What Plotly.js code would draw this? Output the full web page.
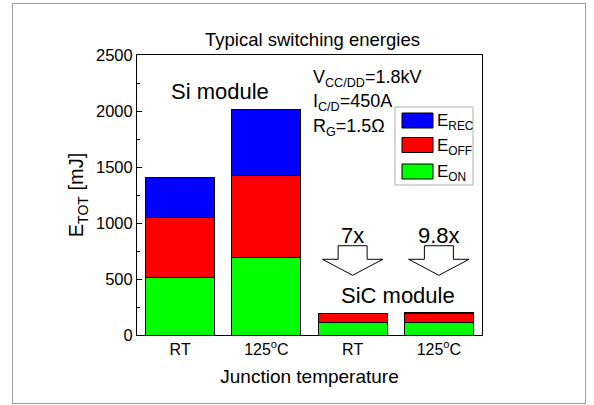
<!DOCTYPE html>
<html>
<head>
<meta charset="utf-8">
<script src="https://cdn.plot.ly/plotly-3.0.1.min.js"></script>
<style>
  html, body { margin: 0; padding: 0; background: #fff; }
  #wrap { position: relative; width: 594px; height: 405px; }
  #chart { width: 594px; height: 405px; }
  #frame { position: absolute; left: 12px; top: 3px; width: 572px; height: 399px;
           border: 1.5px solid #a0a0a0; pointer-events: none; }
</style>
</head>
<body>
<div id="wrap"><div id="chart"></div><div id="frame"></div></div>
<script>
// ---- data ----
const categories = ['RT', '125<sup>o</sup>C', 'RT', '125<sup>o</sup>C'];
const seriesNames = ['E<sub>ON</sub>', 'E<sub>OFF</sub>', 'E<sub>REC</sub>'];
const E_ON  = [515, 695, 115, 108];
const E_OFF = [530, 730, 78, 83];
const E_REC = [365, 585, 3, 12];
const reductionLabels = ['', '', '7x', '9.8x'];
const yTicks = [0, 500, 1000, 1500, 2000, 2500];

// ---- layout helpers ----
const W = 594, H = 405;
const M = {l: 137, r: 112, t: 55, b: 70};
const PW = W - M.l - M.r, PH = H - M.t - M.b;
const px = x => (x - M.l) / PW;          // pixel x -> paper
const py = y => (H - M.b - y) / PH;      // pixel y -> paper
const FONT = 'Liberation Sans, Arial, sans-serif';
const colors = ['#00ff00', '#ff0000', '#0000ff'];
const xs = categories.map((_, i) => i);

const allSeries = [E_ON, E_OFF, E_REC];
const traces = allSeries.map((vals, k) => ({
  type: 'bar', x: xs, y: vals, name: seriesNames[k],
  width: 0.8,
  marker: {color: colors[k], line: {color: '#000', width: 1}},
  showlegend: false, hoverinfo: 'skip'
}));

// reduction arrows (block arrows above SiC bars)
const shapes = [];
const annotations = [];
const stemHW = 0.168, headHW = 0.35, yTop = 797, yShoulder = 676, yTip = 533;
reductionLabels.forEach((lab, i) => {
  if (!lab) return;
  const c = xs[i];
  const path = `M ${c - stemHW},${yTop} L ${c + stemHW},${yTop} L ${c + stemHW},${yShoulder} ` +
               `L ${c + headHW},${yShoulder} L ${c},${yTip} L ${c - headHW},${yShoulder} ` +
               `L ${c - stemHW},${yShoulder} Z`;
  shapes.push({type: 'path', xref: 'x', yref: 'y', path: path,
               fillcolor: '#fff', line: {color: '#000', width: 1}});
  annotations.push({xref: 'x', yref: 'y', x: c, y: 892, text: lab, showarrow: false,
                    xanchor: 'center', yanchor: 'middle',
                    font: {family: FONT, size: 22, color: '#000'}});
});

// module labels
annotations.push({xref: 'paper', yref: 'paper', x: px(220), y: py(91), text: 'Si module',
  showarrow: false, xanchor: 'center', yanchor: 'middle', font: {family: FONT, size: 22, color: '#000'}});
annotations.push({xref: 'paper', yref: 'paper', x: px(398), y: py(295), text: 'SiC module',
  showarrow: false, xanchor: 'center', yanchor: 'middle', font: {family: FONT, size: 22, color: '#000'}});

// conditions
const condLines = ['V<sub>CC/DD</sub>=1.8kV', 'I<sub>C/D</sub>=450A', 'R<sub>G</sub>=1.5Ω'];
const condY = [78, 103, 128];
condLines.forEach((t, i) => {
  annotations.push({xref: 'paper', yref: 'paper', x: px(311), y: py(condY[i]), text: t,
    showarrow: false, xanchor: 'left', yanchor: 'middle', font: {family: FONT, size: 18, color: '#000'}});
});

// custom legend (top to bottom: REC, OFF, ON)
shapes.push({type: 'rect', xref: 'paper', yref: 'paper', x0: px(395), x1: px(473), y0: py(107), y1: py(185),
  fillcolor: '#fff', line: {color: '#b0b0b0', width: 1}});
const legOrder = [2, 1, 0];
const legTop = [113, 137.5, 164];
legOrder.forEach((k, j) => {
  shapes.push({type: 'rect', xref: 'paper', yref: 'paper', x0: px(402), x1: px(433),
    y0: py(legTop[j]), y1: py(legTop[j] + 15), fillcolor: colors[k], line: {color: '#000', width: 1}});
  annotations.push({xref: 'paper', yref: 'paper', x: px(435), y: py(legTop[j] + 9), text: seriesNames[k],
    showarrow: false, xanchor: 'left', yanchor: 'middle', font: {family: FONT, size: 17, color: '#000'}});
});

const layout = {
  width: W, height: H,
  margin: M,
  paper_bgcolor: '#fff', plot_bgcolor: '#fff',
  barmode: 'stack',
  font: {family: FONT, color: '#000'},
  title: {text: 'Typical switching energies', x: 312.5 / W, xanchor: 'center', xref: 'container',
          y: 1 - 40 / H, yanchor: 'middle', yref: 'container',
          font: {family: FONT, size: 18.5, color: '#000'}},
  xaxis: {range: [-0.5, 3.5], tickvals: xs, ticktext: categories, ticks: '',
          showgrid: false, zeroline: false, showline: true, linecolor: '#000', linewidth: 1, mirror: true,
          tickfont: {family: FONT, size: 16, color: '#000'},
          title: {text: 'Junction temperature', font: {family: FONT, size: 19, color: '#000'}, standoff: 12}},
  yaxis: {range: [0, 2500], tickvals: yTicks, ticks: 'inside', ticklen: 5, tickcolor: '#000',
          minor: {dtick: 250, ticks: 'inside', ticklen: 3, tickcolor: '#000', showgrid: false},
          showgrid: false, zeroline: false, showline: true, linecolor: '#000', linewidth: 1, mirror: true,
          tickfont: {family: FONT, size: 16.5, color: '#000'},
          title: {text: 'E<sub>TOT</sub> [mJ]', font: {family: FONT, size: 20, color: '#000'}, standoff: 6}},
  shapes: shapes,
  annotations: annotations
};

Plotly.newPlot('chart', traces, layout, {staticPlot: true, displayModeBar: false});
</script>
</body>
</html>
